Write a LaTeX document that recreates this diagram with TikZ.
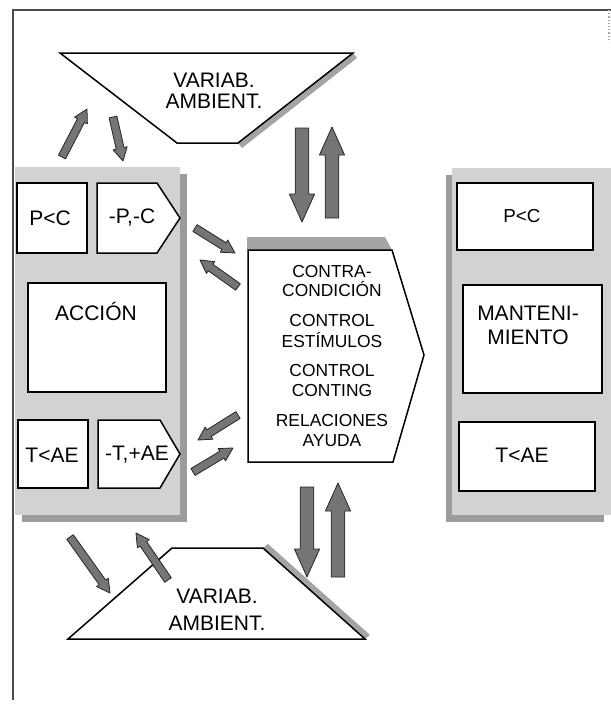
\documentclass[tikz,border=0pt]{standalone}
\usepackage{fontspec}
\setmainfont{Liberation Sans}
\definecolor{panelc}{HTML}{D2D2D2}
\definecolor{shadc}{HTML}{9C9C9C}
\definecolor{arrc}{HTML}{757575}
\definecolor{edgec}{HTML}{262626}
\definecolor{stripc}{HTML}{A4A4A4}
\usetikzlibrary{calc}
\tikzset{
  box/.style={draw=black,line width=0.75pt,fill=white,line join=miter},
  lbl/.style={font=\fontsize{10.5}{10.5}\selectfont,align=center,inner sep=0pt},
  slbl/.style={lbl,font=\fontsize{8.7}{10}\selectfont},
  panel/.style={fill=panelc},
  shadow/.style={fill=shadc},
  strip/.style={fill=stripc},
  fatarr/.style={fill=arrc,draw=edgec,line width=0.4pt,line join=round},
  frame/.style={draw=black!70,line width=0.6pt},
}
% tail, tip, shaft half width, head half width, head length
\newcommand{\fatarrow}[5]{%
  \draw[fatarr] ($(#1)!#3!90:(#2)$) -- ($(#2)!#5!(#1)!#3!-90:(#1)$)
    -- ($(#2)!#5!(#1)!#4!-90:(#1)$) -- (#2) -- ($(#2)!#5!(#1)!#4!90:(#1)$)
    -- ($(#2)!#5!(#1)!#3!90:(#1)$) -- ($(#1)!#3!-90:(#2)$) -- cycle;}
\newcommand{\smallarrow}[2]{\fatarrow{#1}{#2}{2pt}{3.6pt}{6.5pt}}
\newcommand{\bigarrow}[2]{\fatarrow{#1}{#2}{3.4pt}{6.3pt}{14pt}}

\begin{document}
\begin{tikzpicture}[x=0.5pt,y=-0.5pt]
  \useasboundingbox (0,0) rectangle (611,709);
  \draw[frame] (611,10) -- (13,10) -- (13,700);
  \draw[frame,draw=black!35,densely dotted] (609,10) -- (609,42);

  % panels with their shadows
  \fill[shadow] (22,174) rectangle (187,522);
  \fill[panel] (15,167) rectangle (180,515);
  \fill[shadow] (446,175) rectangle (604,522);
  \fill[panel] (452,168) rectangle (611,515);

  % left panel
  \draw[box] (17,183) rectangle (87,253);
  \draw[box] (97,183) -- (157,183) -- (180,218) -- (157,253) -- (97,253) -- cycle;
  \draw[box] (28,283) rectangle (166,392);
  \draw[box] (18,420) rectangle (88,488);
  \draw[box] (98,420) -- (160,420) -- (180,454) -- (160,488) -- (98,488) -- cycle;
  \node[lbl] (apc) at (50,218) {P<C};
  \node[lbl] (apcm) at (132,218) {-P,-C};
  \node[lbl] (accion) at (96,311) {ACCIÓN};
  \node[lbl] (atae) at (52,455) {T<AE};
  \node[lbl] (ataem) at (137,455) {-T,+AE};

  % right panel
  \draw[box] (457,183) rectangle (593,250);
  \draw[box] (463,285) rectangle (602,393);
  \draw[box] (459,422) rectangle (595,491);
  \node[lbl,font=\fontsize{9.4}{10}\selectfont] (mpc) at (522,216) {P<C};
  \node[lbl,font=\fontsize{10.5}{12}\selectfont] (mant) at (528,325) {MANTENI-\\MIENTO};
  \node[lbl] (mtae) at (522,455) {T<AE};

  % centre box
  \fill[strip] (247,237) -- (385,237) -- (392,250) -- (247,250) -- cycle;
  \draw[box] (248,250) -- (392,250) -- (424,355) -- (393,462) -- (248,462) -- cycle;
  \node[slbl] (ctrl) at (332,356) {CONTRA-\\CONDICIÓN\\[5pt]CONTROL\\ESTÍMULOS\\[5pt]CONTROL\\CONTING\\[5pt]RELACIONES\\AYUDA};

  % environment variables
  \fill[strip] (353,53) -- (357,58) -- (242,148) -- (238,143) -- cycle;
  \draw[box] (60,53) -- (353,53) -- (238,143) -- (177,143) -- cycle;
  \node[lbl] (vtop) at (214,91) {VARIAB.\\AMBIENT.};
  \fill[strip] (263,548) -- (268,544) -- (370,635) -- (365,639) -- cycle;
  \draw[box] (172,548) -- (263,548) -- (365,639) -- (68,639) -- cycle;
  \node[lbl] (vbot) at (217,610) {VARIAB.\\[3pt]AMBIENT.};

  % arrow ends
  \coordinate (a1t) at (62,157);  \coordinate (a1h) at (87,109);
  \coordinate (a2t) at (113,117); \coordinate (a2h) at (123,161);
  \coordinate (a3t) at (195,228); \coordinate (a3h) at (235,253);
  \coordinate (a4t) at (238,287); \coordinate (a4h) at (200,260);
  \coordinate (a5t) at (238,415); \coordinate (a5h) at (198,440);
  \coordinate (a6t) at (193,472); \coordinate (a6h) at (233,448);
  \coordinate (a7t) at (70,537);  \coordinate (a7h) at (110,593);
  \coordinate (a8t) at (168,580); \coordinate (a8h) at (136,533);
  \coordinate (b1t) at (302,128); \coordinate (b1h) at (302,222);
  \coordinate (b2t) at (332,218); \coordinate (b2h) at (332,127);
  \coordinate (b3t) at (307,487); \coordinate (b3h) at (307,577);
  \coordinate (b4t) at (338,577); \coordinate (b4h) at (338,483);

  \foreach \a in {a1,a2,a3,a4,a5,a6,a7,a8} \smallarrow{\a t}{\a h};
  \foreach \b in {b1,b2,b3,b4} \bigarrow{\b t}{\b h};
\end{tikzpicture}
\end{document}
